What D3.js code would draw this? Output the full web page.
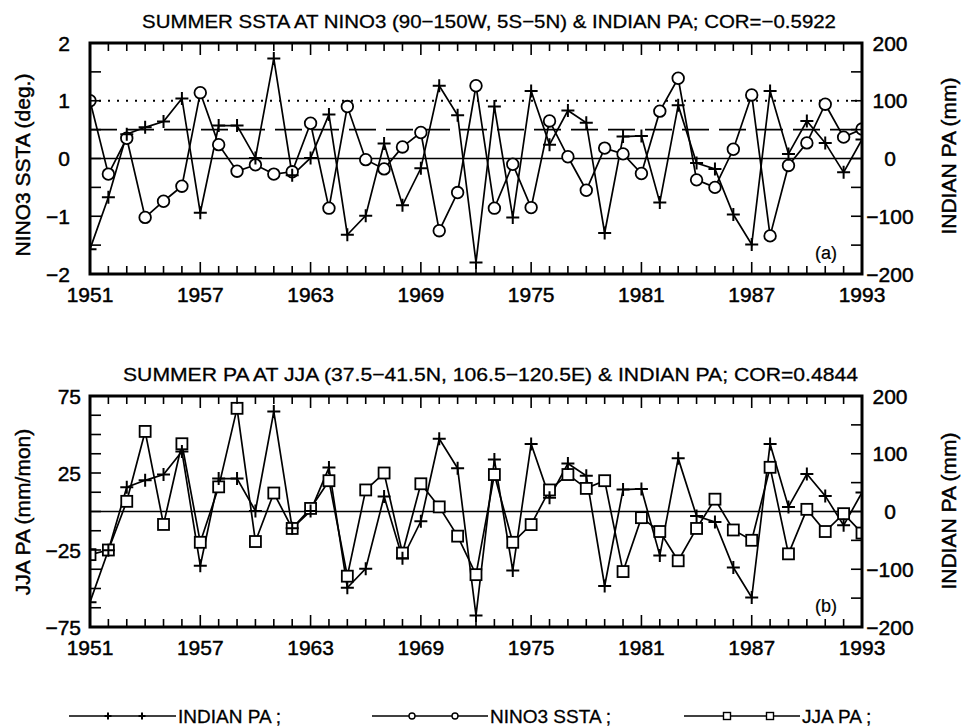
<!DOCTYPE html>
<html><head><meta charset="utf-8">
<script src="https://cdn.jsdelivr.net/npm/d3@7"></script>
<style>body{margin:0;background:#fff}</style>
</head><body>
<svg id="c" width="963" height="727"></svg>
<script>
// ---------------- data ----------------
const years = [1951,1952,1953,1954,1955,1956,1957,1958,1959,1960,1961,1962,1963,1964,1965,1966,1967,1968,1969,1970,1971,1972,
               1973,1974,1975,1976,1977,1978,1979,1980,1981,1982,1983,1984,1985,1986,1987,1988,1989,1990,1991,1992,1993];
const indianPA = [-157,-67,42,54,64,104,-94,57,57,1,173,-29,1,76,-132,-99,26,-81,-17,126,75,-180,
                  90,-102,117,24,83,62,-129,38,39,-76,92,-8,-18,-97,-149,117,8,65,27,-24,33];
const nino3SSTA = [1.0,-0.27,0.35,-1.02,-0.74,-0.48,1.14,0.24,-0.22,-0.11,-0.27,-0.23,0.61,-0.86,0.90,-0.02,-0.18,0.20,0.45,-1.25,-0.59,1.26,
                   -0.86,-0.10,-0.85,0.65,0.03,-0.55,0.18,0.08,-0.26,0.82,1.39,-0.37,-0.50,0.16,1.10,-1.34,-0.12,0.27,0.94,0.37,0.51];
const jjaPA = [-28,-25,6.6,52,-8.4,44,-20,16,67,-19.5,12,-11,2,20,-42,14,25,-27,18,3,-16,-41,
               24,-20,-8.5,14,24,15,20,-39,-4,-13,-32,-11,8,-12,-18.7,28.7,-27.5,1.4,-13,-1.4,-14];
const yearTicks = [1951,1957,1963,1969,1975,1981,1987,1993];
const ninoTickLabels = [2,1,0,-1,-2];
const jjaTickLabels = [75,25,-25,-75];
const paTickLabels = [200,100,0,-100,-200];
const titleA = "SUMMER SSTA AT NINO3 (90\u2212150W, 5S\u22125N) & INDIAN PA; COR=\u22120.5922";
const titleB = "SUMMER PA AT JJA (37.5\u221241.5N, 106.5\u2212120.5E) & INDIAN PA; COR=0.4844";

// ---------------- setup ----------------
const W = 963, H = 727;
const FONT = '"Liberation Sans", Arial, Helvetica, sans-serif';
const svg = d3.select('#c');
svg.append('rect').attr('width', W).attr('height', H).attr('fill', '#fff');
const x = d3.scaleLinear().domain([1951, 1993]).range([90, 862]);
const fmt = v => (v < 0 ? '\u2212' : '') + Math.abs(v);

function plus(g, px, py, s) {
  g.append('path').attr('d', `M${px - s},${py}H${px + s}M${px},${py - s}V${py + s}`)
    .attr('stroke', '#000').attr('stroke-width', 2).attr('fill', 'none');
}
function txt(g) {
  return g.append('text').attr('font-family', FONT).attr('fill', '#000')
    .attr('stroke', '#000').attr('stroke-width', 0.45);
}

function panel(o) {
  const g = svg.append('g');
  const yL = d3.scaleLinear().domain(o.leftDomain).range([o.bottom, o.top]);
  const yR = d3.scaleLinear().domain([-200, 200]).range([o.bottom, o.top]);
  const clipId = 'clip' + o.id;
  svg.append('clipPath').attr('id', clipId).append('rect')
    .attr('x', x(1951)).attr('y', o.top).attr('width', x(1993) - x(1951)).attr('height', o.bottom - o.top);
  const inner = g.append('g').attr('clip-path', `url(#${clipId})`);

  // reference lines
  inner.append('line').attr('x1', x(1951)).attr('x2', x(1993)).attr('y1', yL(0)).attr('y2', yL(0))
    .attr('stroke', '#000').attr('stroke-width', 1.6);
  (o.refLines || []).forEach(r => {
    inner.append('line').attr('x1', x(1951)).attr('x2', x(1993)).attr('y1', yL(r.v)).attr('y2', yL(r.v))
      .attr('stroke', '#000').attr('stroke-width', r.w).attr('stroke-dasharray', r.dash);
  });

  // series lines
  const lineR = d3.line().x((d, i) => x(years[i])).y(d => yR(d));
  const lineL = d3.line().x((d, i) => x(years[i])).y(d => yL(d));
  inner.append('path').attr('d', lineL(o.leftSeries)).attr('fill', 'none').attr('stroke', '#000').attr('stroke-width', 1.7);
  inner.append('path').attr('d', lineR(indianPA)).attr('fill', 'none').attr('stroke', '#000').attr('stroke-width', 1.7);

  // markers
  o.leftSeries.forEach((v, i) => {
    const px = x(years[i]), py = yL(v);
    if (o.marker === 'circle') {
      inner.append('circle').attr('cx', px).attr('cy', py).attr('r', 5.8)
        .attr('fill', '#fff').attr('stroke', '#000').attr('stroke-width', 1.8);
    } else {
      inner.append('rect').attr('x', px - 5.5).attr('y', py - 5.5).attr('width', 11).attr('height', 11)
        .attr('fill', '#fff').attr('stroke', '#000').attr('stroke-width', 1.8);
    }
  });
  indianPA.forEach((v, i) => plus(inner, x(years[i]), yR(v), 6.5));

  // ticks
  const tk = g.append('g').attr('stroke', '#000').attr('stroke-width', 1.6);
  years.forEach(yr => {
    const len = yearTicks.includes(yr) ? 12 : 8;
    tk.append('line').attr('x1', x(yr)).attr('x2', x(yr)).attr('y1', o.bottom).attr('y2', o.bottom - len);
    tk.append('line').attr('x1', x(yr)).attr('x2', x(yr)).attr('y1', o.top).attr('y2', o.top + len);
  });
  d3.range(o.leftDomain[0], o.leftDomain[1] + 1e-9, o.leftStep).forEach(v => {
    tk.append('line').attr('x1', x(1951)).attr('x2', x(1951) + 11).attr('y1', yL(v)).attr('y2', yL(v));
  });
  d3.range(-200, 200 + 1e-9, 50).forEach(v => {
    tk.append('line').attr('x1', x(1993)).attr('x2', x(1993) - 11).attr('y1', yR(v)).attr('y2', yR(v));
  });

  // frame
  g.append('rect').attr('x', x(1951)).attr('y', o.top).attr('width', x(1993) - x(1951)).attr('height', o.bottom - o.top)
    .attr('fill', 'none').attr('stroke', '#000').attr('stroke-width', 3);

  // tick labels
  yearTicks.forEach(yr => {
    txt(g).attr('font-size', 21).attr('x', x(yr)).attr('y', o.bottom + 28).attr('text-anchor', 'middle').text(yr);
  });
  o.leftLabels.forEach(v => {
    txt(g).attr('font-size', 21).attr('x', o.leftLabelX).attr('y', yL(v) + 7.5).attr('text-anchor', 'end').text(fmt(v));
  });
  paTickLabels.forEach(v => {
    txt(g).attr('font-size', 21).attr('x', 890).attr('y', yR(v) + 7.5).attr('text-anchor', 'middle').text(fmt(v));
  });

  // axis titles
  txt(g).attr('transform', `translate(30,${o.leftTitleY}) rotate(-90)`).attr('text-anchor', 'middle')
    .attr('font-size', 21).text(o.leftTitle);
  txt(g).attr('transform', `translate(956,${o.rightTitleY}) rotate(-90)`).attr('text-anchor', 'middle')
    .attr('font-size', 21).text('INDIAN PA (mm)');

  // panel title
  txt(g).attr('x', o.titleX).attr('y', o.top - 15).attr('font-size', 19).attr('stroke-width', 0.3)
    .attr('textLength', o.titleLen).attr('lengthAdjust', 'spacingAndGlyphs').text(o.title);

  // panel tag
  txt(g).attr('x', 815).attr('y', o.bottom - 15).attr('font-size', 18).attr('stroke-width', 0.2).text(o.tag);
}

panel({
  id: 'a', top: 43, bottom: 274, leftDomain: [-2, 2], leftStep: 0.5, leftLabels: ninoTickLabels, leftLabelX: 70,
  leftSeries: nino3SSTA, marker: 'circle', leftTitle: 'NINO3 SSTA (deg.)', leftTitleY: 165, rightTitleY: 156,
  title: titleA, titleX: 142, titleLen: 694, tag: '(a)',
  refLines: [{v: 1, dash: '2,7', w: 2}, {v: 0.5, dash: '27,10', w: 1.6}]
});
panel({
  id: 'b', top: 396, bottom: 627, leftDomain: [-75, 75], leftStep: 12.5, leftLabels: jjaTickLabels, leftLabelX: 81,
  leftSeries: jjaPA, marker: 'square', leftTitle: 'JJA PA (mm/mon)', leftTitleY: 512, rightTitleY: 511,
  title: titleB, titleX: 123, titleLen: 735, tag: '(b)', refLines: []
});

// ---------------- legend ----------------
const legendItems = [
  {label: 'INDIAN PA ;', marker: 'plus', x0: 69, x1: 176, m: [108, 142]},
  {label: 'NINO3 SSTA ;', marker: 'circle', x0: 372, x1: 488, m: [412, 455]},
  {label: 'JJA PA ;', marker: 'square', x0: 684, x1: 800, m: [727, 770]}
];
const ly = 716;
const lg = svg.append('g');
legendItems.forEach(it => {
  lg.append('line').attr('x1', it.x0).attr('x2', it.x1).attr('y1', ly).attr('y2', ly).attr('stroke', '#000').attr('stroke-width', 1.7);
  it.m.forEach(mx => {
    if (it.marker === 'plus') plus(lg, mx, ly, 3.5);
    else if (it.marker === 'circle') lg.append('circle').attr('cx', mx).attr('cy', ly).attr('r', 3).attr('fill', '#fff').attr('stroke', '#000').attr('stroke-width', 1.4);
    else lg.append('rect').attr('x', mx - 3.5).attr('y', ly - 3.5).attr('width', 7).attr('height', 7).attr('fill', '#fff').attr('stroke', '#000').attr('stroke-width', 1.4);
  });
  txt(lg).attr('x', it.x1 + 2).attr('y', ly + 7).attr('font-size', 19).attr('stroke-width', 0.3).text(it.label);
});
</script>
</body></html>
